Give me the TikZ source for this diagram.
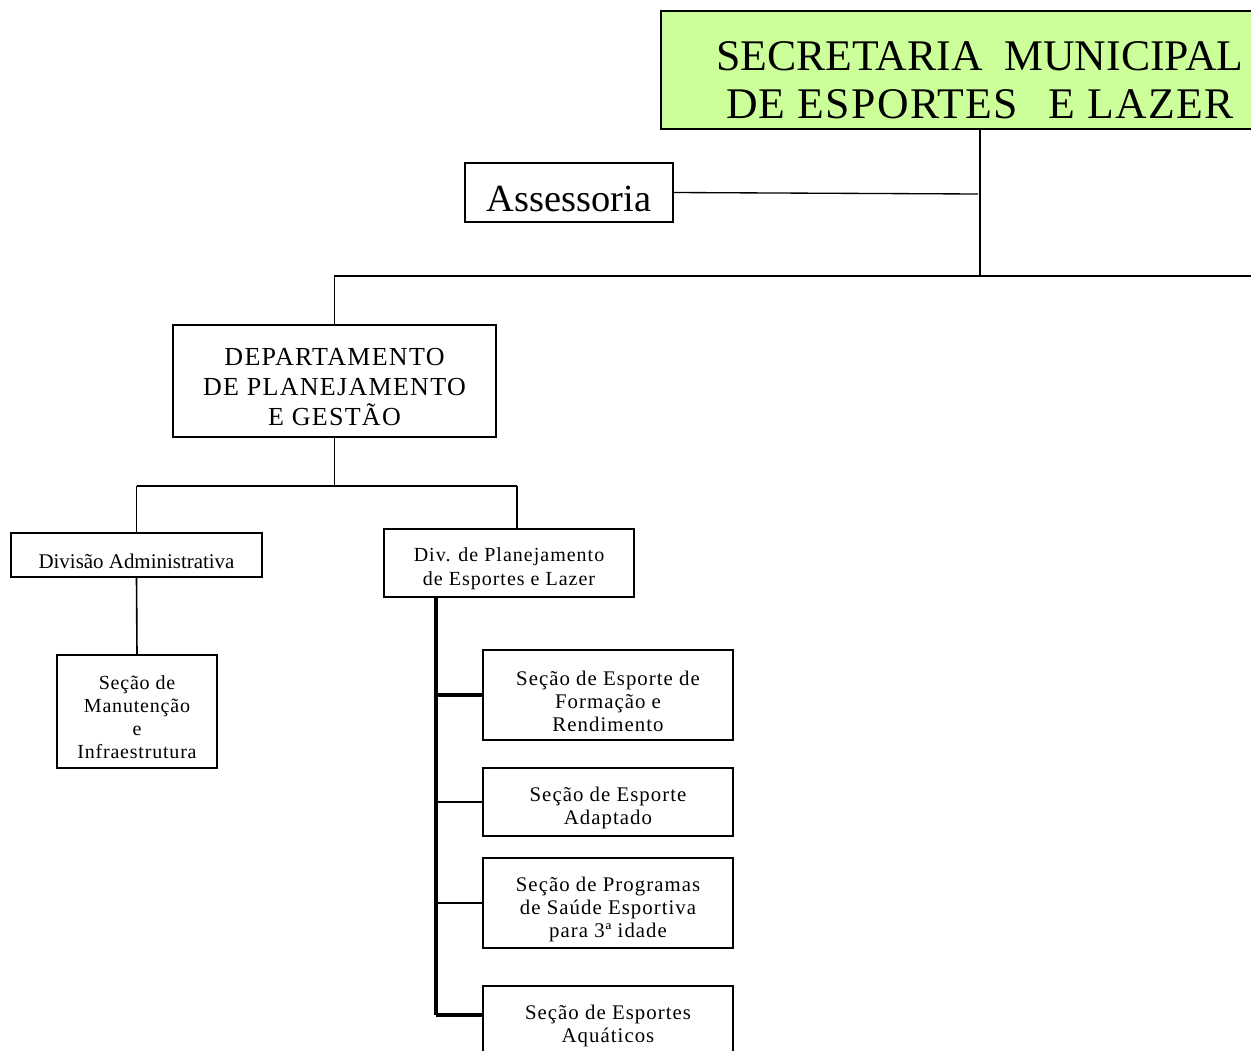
\documentclass[tikz,border=0pt]{standalone}
\usepackage{fontspec}
\usetikzlibrary{calc}
\setmainfont{Liberation Serif}
\newfontfamily\spc[LetterSpace=5]{Liberation Serif}
\newfontfamily\spcsm[LetterSpace=4]{Liberation Serif}
\newfontfamily\spchead[LetterSpace=3]{Liberation Serif}
\definecolor{headgreen}{HTML}{CCFF99}
\begin{document}
\begin{tikzpicture}[x=0.75pt,y=-0.75pt,
  box/.style 2 args={draw=black,line width=1.4pt,inner sep=0pt,
    minimum width=#1*0.75pt,minimum height=#2*0.75pt},
  lbl/.style={inner sep=0pt,align=center},
  sm/.style={lbl,font=\spc\fontsize{15.6}{17.25}\selectfont},
  link/.style={line width=1.2pt},
  heavy/.style={line width=2.4pt}]
\useasboundingbox (0,0) rectangle (1251,1050);
\clip (0,0) rectangle (1251,1050);

% frames
\node[box={638}{118},fill=headgreen] (sec) at (980,70) {};
\node[box={208}{59}] (ass) at (569,192.5) {};
\node[box={323}{112}] (dept) at (334.5,381) {};
\node[box={251}{44}] (divadm) at (136.5,555) {};
\node[box={250}{68}] (divplan) at (509,563) {};
\node[box={160}{113}] (manut) at (137,711.5) {};
\node[box={250}{90}] (s1) at (608,695) {};
\node[box={250}{68}] (s2) at (608,802) {};
\node[box={250}{90}] (s3) at (608,903) {};
\node[box={250}{68}] (s4) at (608,1020) {};

% texts
\node[lbl,font=\fontsize{32.8}{36}\selectfont] (secT) at (980,80)
  {SECRETARIA\ \ MUNICIPAL\\{\spchead DE ESPORTES\hspace{0.7em}E LAZER}};
\node[lbl,font=\fontsize{28.8}{32}\selectfont] (assT) at ($(ass)+(0,6)$) {Assessoria};
\node[lbl,font=\spc\fontsize{19.5}{22.5}\selectfont] (deptT) at ($(dept)+(0,6)$)
  {DEPARTAMENTO\\DE PLANEJAMENTO\\E GESTÃO};
\node[lbl,font=\fontsize{15.7}{18}\selectfont] (divadmT) at ($(divadm)+(0,6)$) {Divisão Administrativa};
\node[lbl,font=\spc\fontsize{15}{18}\selectfont] (divplanT) at ($(divplan)+(0,6)$)
  {Div. de Planejamento\\de Esportes e Lazer};
\node[lbl,font=\spcsm\fontsize{15}{17.25}\selectfont] (manutT) at ($(manut)+(0,6)$)
  {Seção de\\Manutenção\\e\\Infraestrutura};
\node[sm] (s1T) at ($(s1)+(0,6)$) {Seção de Esporte de\\Formação e\\Rendimento};
\node[sm] (s2T) at ($(s2)+(0,6)$) {Seção de Esporte\\Adaptado};
\node[sm] (s3T) at ($(s3)+(0,6)$) {Seção de Programas\\de Saúde Esportiva\\para 3ª idade};
\node[sm] (s4T) at ($(s4)+(0,6)$) {Seção de Esportes\\Aquáticos};

% junction points
\coordinate (bus) at (980,276);
\coordinate (busR) at (1260,276);
\coordinate (assJ) at (978,194);
\coordinate (deptJ) at (334.5,486);
\coordinate (admJ) at (136.5,486);
\coordinate (planJ) at (517,486);
\coordinate (planTop) at (517,529);
\coordinate (spineTop) at (436,597);
\coordinate (spineBot) at (436,1015);

% top level
\draw[link] (sec.south) -- (bus);
\draw[line width=1pt] (ass.east) -- (assJ);
\draw[line width=1pt] (dept.north) -- (dept.north |- bus) -- (busR);

% department branches
\draw[link] (dept.south) -- (deptJ);
\draw[link] (admJ) -- (planJ);
\draw[link] (admJ) -- (divadm.north);
\draw[link] (planJ) -- (planTop);
\draw[link] (divadm.south) -- (manut.north);

% section spine
\draw[heavy] (spineTop) -- (spineBot);
\draw[heavy] (spineTop |- s1.west) -- (s1.west);
\draw[link] (spineTop |- s2.west) -- (s2.west);
\draw[link] (spineTop |- s3.west) -- (s3.west);
\draw[heavy] (spineBot) -- (s4.west |- spineBot);
\end{tikzpicture}
\end{document}
